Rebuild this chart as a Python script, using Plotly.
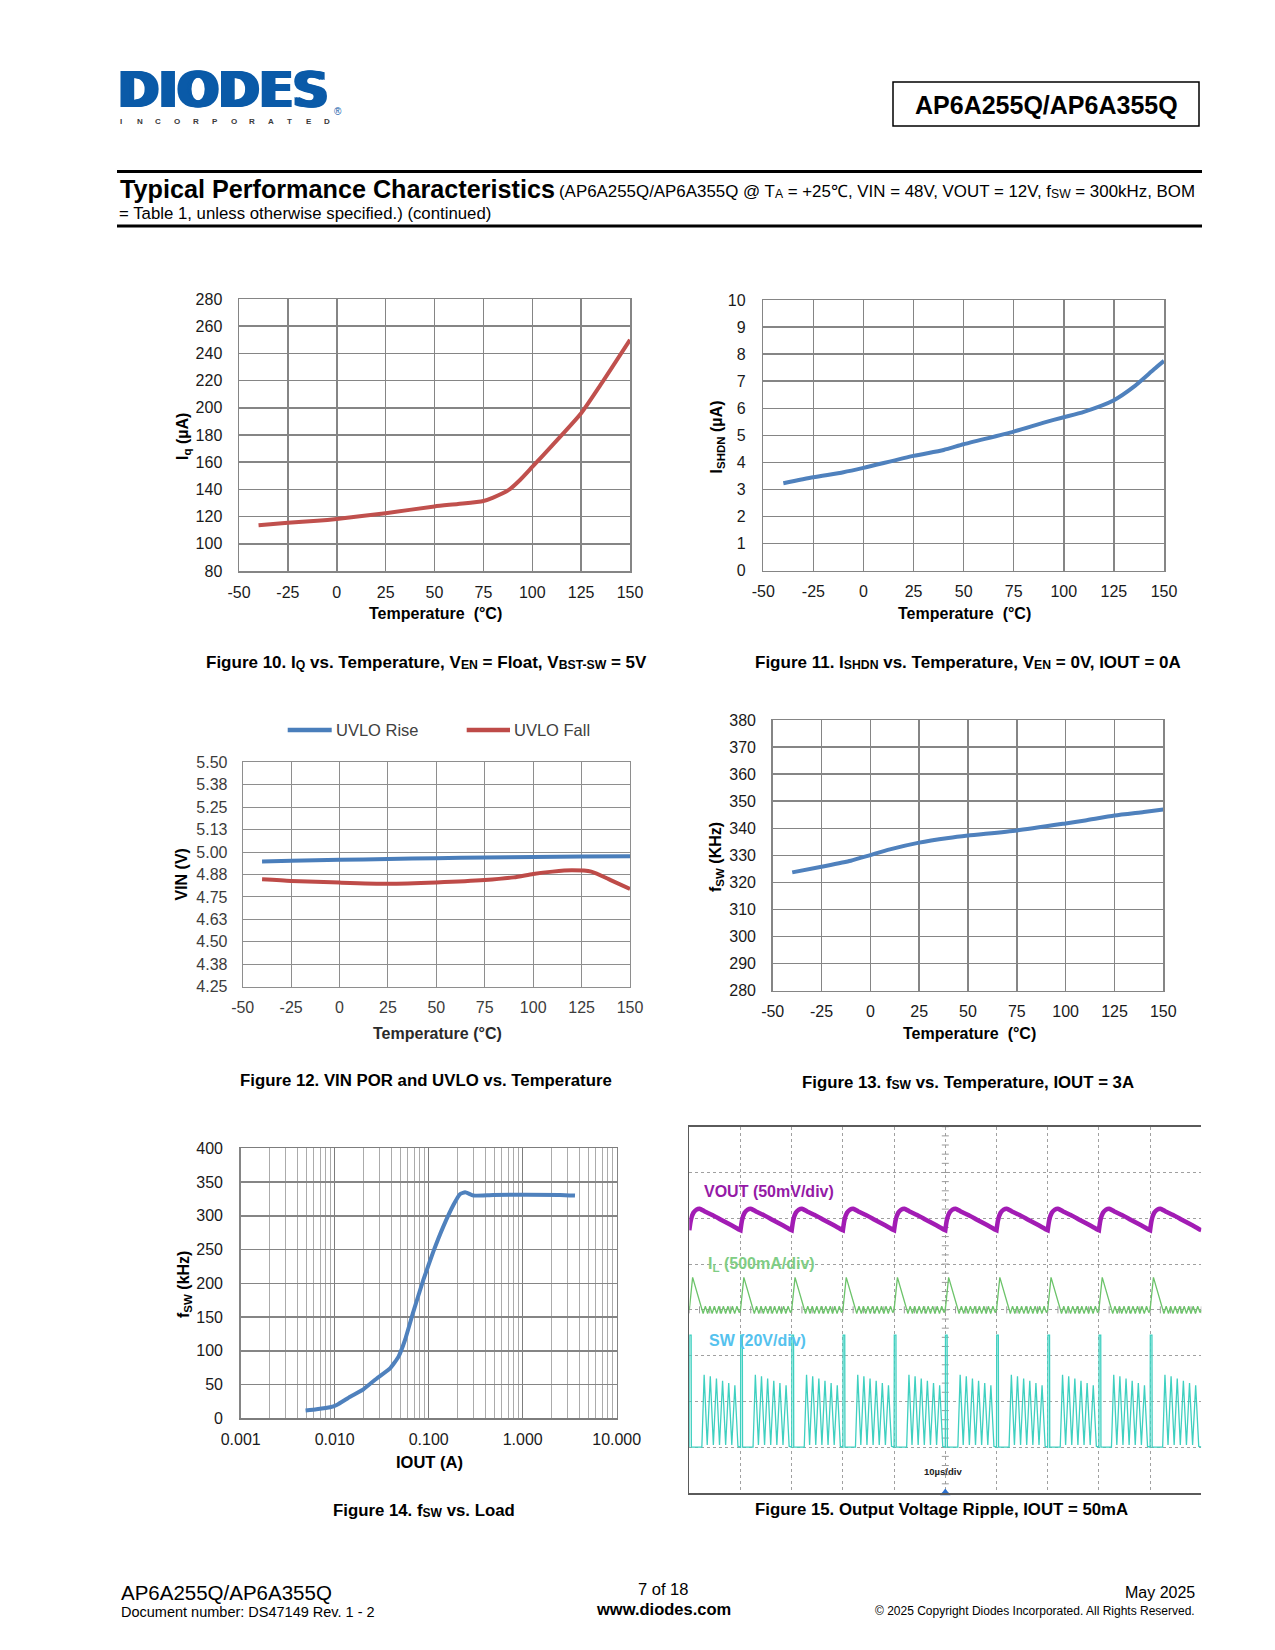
import numpy as np
import plotly.graph_objects as go

W, H = 1275, 1650
FONT = "Liberation Sans, Arial, Helvetica, sans-serif"

# ---------------- data ----------------
temp_ticks = [-50, -25, 0, 25, 50, 75, 100, 125, 150]

# Figure 10 : IQ vs temperature
fig10_temp = [-40, -25, -10, 0, 25, 50, 62, 75, 80, 88, 94, 100, 110, 125, 135, 150]
fig10_iq = [113.6, 115.5, 117.0, 118.3, 122.5, 127.5, 129.3, 131.5, 134.0, 139.6,
            147.3, 156.5, 172.0, 196.0, 217.0, 250.0]
fig10_yticks = [80, 100, 120, 140, 160, 180, 200, 220, 240, 260, 280]

# Figure 11 : ISHDN vs temperature
fig11_temp = [-40, -25, -10, 0, 25, 40, 50, 75, 90, 100, 110, 125, 135, 145, 150]
fig11_ishdn = [3.23, 3.45, 3.64, 3.80, 4.24, 4.46, 4.67, 5.14, 5.47, 5.67, 5.87,
               6.30, 6.80, 7.44, 7.75]
fig11_yticks = [0, 1, 2, 3, 4, 5, 6, 7, 8, 9, 10]

# Figure 12 : UVLO vs temperature
fig12_temp_rise = [-40, -25, 0, 25, 50, 75, 100, 125, 150]
fig12_uvlo_rise = [4.948, 4.951, 4.957, 4.961, 4.966, 4.970, 4.973, 4.975, 4.976]
fig12_temp_fall = [-40, -25, 0, 25, 50, 75, 90, 100, 110, 120, 130, 140, 150]
fig12_uvlo_fall = [4.848, 4.839, 4.830, 4.824, 4.831, 4.844, 4.859, 4.878, 4.891,
                   4.898, 4.891, 4.844, 4.794]
fig12_yticks = [4.25, 4.375, 4.5, 4.625, 4.75, 4.875, 5.0, 5.125, 5.25, 5.375, 5.5]
fig12_yticktext = ["4.25", "4.38", "4.50", "4.63", "4.75", "4.88", "5.00", "5.13",
                   "5.25", "5.38", "5.50"]
fig12_series = ["UVLO Rise", "UVLO Fall"]

# Figure 13 : fSW vs temperature
fig13_temp = [-40, -25, -10, 0, 10, 25, 40, 50, 75, 100, 110, 125, 140, 150]
fig13_fsw = [323.7, 325.8, 328.0, 330.1, 332.2, 334.7, 336.4, 337.3, 339.2, 341.8,
             342.9, 344.7, 346.0, 346.9]
fig13_yticks = [280, 290, 300, 310, 320, 330, 340, 350, 360, 370, 380]

# Figure 14 : fSW vs load
fig14_iout = [0.0049, 0.0064, 0.0089, 0.0105, 0.0146, 0.0202, 0.028, 0.0388, 0.0476,
              0.056, 0.0687, 0.0877, 0.112, 0.143, 0.183, 0.215, 0.244, 0.299, 0.487,
              2.49, 3.6]
fig14_fsw = [11.4, 13.3, 16.3, 19.8, 32, 43, 59, 74, 91, 116, 158, 205, 247, 284, 316,
             332, 335, 330, 331, 331, 330]
fig14_xticks = [0.001, 0.01, 0.1, 1, 10]
fig14_xticktext = ["0.001", "0.010", "0.100", "1.000", "10.000"]
fig14_yticks = [0, 50, 100, 150, 200, 250, 300, 350, 400]

# Figure 15 : scope capture (x in divisions of 10 us, y in divisions)
scope_period_starts = [0, 1, 2, 3, 4, 5, 6, 7, 8, 9]
vout_t = [0.00, 0.03, 0.08, 0.14, 0.20, 0.30, 0.45, 0.60, 0.75, 0.90, 0.98, 1.00]
vout_div = [5.74, 5.96, 6.12, 6.19, 6.21, 6.15, 6.07, 5.98, 5.89, 5.80, 5.75, 5.74]
il_t = [0.00, 0.065, 0.27, 0.314, 0.358, 0.402, 0.446, 0.490, 0.534, 0.578, 0.622,
        0.666, 0.710, 0.754, 0.798, 0.842, 0.886, 0.930, 0.974, 1.00]
il_div = [4.00, 4.71, 3.92, 4.08, 3.92, 4.08, 3.92, 4.08, 3.92, 4.08, 3.92, 4.08,
          3.92, 4.08, 3.92, 4.08, 3.92, 4.08, 3.94, 4.00]
sw_t = [0.00, 0.004, 0.036, 0.040, 0.245, 0.29, 0.35, 0.41, 0.47, 0.53, 0.59, 0.65,
        0.71, 0.77, 0.83, 0.89, 0.95, 1.00]
sw_div = [1.00, 3.45, 3.45, 1.00, 1.00, 2.58, 1.05, 2.55, 1.05, 2.50, 1.05, 2.45,
          1.05, 2.40, 1.05, 2.35, 1.02, 1.00]
scope_marker_levels = [5.90, 4.08, 3.00, 0.98]
scope_marker_colors = ["#a21cb4", "#6cc36a", "#3fd0c0", "#3fd0c0"]

# ---------------- helpers ----------------
def dom_x(a, b):
    return [a / W, b / W]


def dom_y(top, bottom):
    return [1 - bottom / H, 1 - top / H]


def sub(s, shift="-22%"):
    """Subscript as a small, shifted span (avoids zero-width spacer tspans)."""
    return '<span style="font-size:72%%;baseline-shift:%s">%s</span>' % (shift, s)


fig = go.Figure()


def add_line(x, y, color, xa, ya, width=4, name=None, shape="spline", smoothing=0.6):
    fig.add_trace(go.Scatter(
        x=x, y=y, mode="lines", name=name, showlegend=False,
        line=dict(color=color, width=width, shape=shape, smoothing=smoothing),
        xaxis=xa, yaxis=ya, hoverinfo="skip"))


GRID = "#858585"
TICKFONT = dict(family=FONT, size=16, color="#1a1a1a")


def lin_axis(domain, anchor, rng, tickvals, ticktext=None, gridcolor=GRID, gw=1.5,
             tf=TICKFONT, standoff=6, atype="linear"):
    return dict(domain=domain, anchor=anchor, range=rng, type=atype,
                tickmode="array", tickvals=tickvals,
                ticktext=ticktext if ticktext else [str(v) for v in tickvals],
                showgrid=True, gridcolor=gridcolor, gridwidth=gw,
                showline=True, linecolor=gridcolor, linewidth=gw, mirror=True,
                zeroline=False, ticks="", tickfont=tf, automargin=False,
                ticklabelstandoff=standoff, fixedrange=True)


# ---------------- traces ----------------
RED = "#c0504d"
BLUE = "#4f81bd"
F12_COLORS = ["#4a7ebb", "#be4b48"]
add_line(fig10_temp, fig10_iq, RED, "x", "y")
add_line(fig11_temp, fig11_ishdn, BLUE, "x2", "y2")
add_line(fig12_temp_rise, fig12_uvlo_rise, F12_COLORS[0], "x3", "y3",
         name=fig12_series[0])
add_line(fig12_temp_fall, fig12_uvlo_fall, F12_COLORS[1], "x3", "y3",
         name=fig12_series[1])
add_line(fig13_temp, fig13_fsw, BLUE, "x4", "y4")
add_line(fig14_iout, fig14_fsw, BLUE, "x5", "y5", smoothing=0.4)


def tile(t, v):
    xs = np.concatenate([np.asarray(t) + k for k in scope_period_starts])
    ys = np.concatenate([np.asarray(v) for _ in scope_period_starts])
    return xs, ys


# graticule centre ticks
cent = [i * 0.2 for i in range(41)]
fig.add_trace(go.Scatter(x=[5] * len(cent), y=cent, mode="markers",
                         marker=dict(symbol="line-ew", size=5,
                                     line=dict(color="#9a9a9a", width=1)),
                         xaxis="x6", yaxis="y6", showlegend=False, hoverinfo="skip"))
centx = [i * 0.2 for i in range(51)]
fig.add_trace(go.Scatter(x=centx, y=[4] * len(centx), mode="markers",
                         marker=dict(symbol="line-ns", size=5,
                                     line=dict(color="#9a9a9a", width=1)),
                         xaxis="x6", yaxis="y6", showlegend=False, hoverinfo="skip"))

sx, sy = tile(sw_t, sw_div)
add_line(sx, sy, "#3fd0c0", "x6", "y6", width=1.3, shape="linear")
ix, iy = tile(il_t, il_div)
add_line(ix, iy, "#6cc36a", "x6", "y6", width=1.3, shape="linear")
vx, vy = tile(vout_t, vout_div)
add_line(vx, vy, "#a21cb4", "x6", "y6", width=4.5, shape="spline", smoothing=0.5)

fig.add_trace(go.Scatter(x=[-0.12] * len(scope_marker_levels), y=scope_marker_levels,
                         mode="markers", cliponaxis=False,
                         marker=dict(symbol="triangle-right", size=7,
                                     color=scope_marker_colors),
                         xaxis="x6", yaxis="y6", showlegend=False, hoverinfo="skip"))
fig.add_trace(go.Scatter(x=[5], y=[0.0], mode="markers", cliponaxis=False,
                         marker=dict(symbol="triangle-up", size=9, color="#2a6fd0"),
                         xaxis="x6", yaxis="y6", showlegend=False, hoverinfo="skip"))

# ---------------- axes ----------------
TICKFONT12 = dict(family=FONT, size=16, color="#3c3c3c")
layout_axes = dict(
    xaxis=lin_axis(dom_x(239, 630), "y", [-50, 150], temp_ticks),
    yaxis=lin_axis(dom_y(299, 571), "x", [80, 280], fig10_yticks, standoff=12),
    xaxis2=lin_axis(dom_x(763.3, 1164), "y2", [-50, 150], temp_ticks),
    yaxis2=lin_axis(dom_y(300, 570.7), "x2", [0, 10], fig11_yticks, standoff=13),
    xaxis3=lin_axis(dom_x(242.7, 630), "y3", [-50, 150], temp_ticks, gridcolor="#8e8e8e",
                    gw=1, tf=TICKFONT12),
    yaxis3=lin_axis(dom_y(762.3, 986.7), "x3", [4.25, 5.5], fig12_yticks,
                    fig12_yticktext, gridcolor="#8e8e8e", gw=1, tf=TICKFONT12,
                    standoff=11),
    xaxis4=lin_axis(dom_x(772.7, 1163.3), "y4", [-50, 150], temp_ticks),
    yaxis4=lin_axis(dom_y(720, 990.7), "x4", [280, 380], fig13_yticks, standoff=12),
    xaxis5=lin_axis(dom_x(240.7, 616.7), "y5", [-3, 1], fig14_xticks, fig14_xticktext,
                    gridcolor="#7d7d7d", atype="log"),
    yaxis5=lin_axis(dom_y(1148.3, 1418.3), "x5", [0, 400], fig14_yticks, standoff=13),
    xaxis6=dict(domain=dom_x(689.3, 1201.3), anchor="y6", range=[0, 10], dtick=1,
                tick0=0, showgrid=True, gridcolor="#a0a0a0", griddash="dot",
                gridwidth=1, showticklabels=False, ticks="", showline=True,
                linecolor="#5a5a5a", linewidth=1.5, mirror=True, zeroline=False,
                automargin=False, fixedrange=True),
    yaxis6=dict(domain=dom_y(1126.7, 1493), anchor="x6", range=[0, 8], dtick=1,
                tick0=0, showgrid=True, gridcolor="#a0a0a0", griddash="dot",
                gridwidth=1, showticklabels=False, ticks="", showline=True,
                linecolor="#5a5a5a", linewidth=1.5, mirror=False, zeroline=False,
                automargin=False, fixedrange=True),
)
layout_axes["xaxis5"]["minor"] = dict(
    tickmode="array",
    tickvals=[m * 10.0 ** e for e in range(-3, 1) for m in range(2, 10)],
    showgrid=True, gridcolor="#ababab", gridwidth=1, ticks="")

# ---------------- annotations ----------------
ann = []


def text(t, x, y, size, color="#000000", xanchor="center", yanchor="middle",
         angle=0, family=FONT, xref="paper", yref="paper", shadow=None, **kw):
    font = dict(family=family, size=size, color=color)
    if shadow:
        font["shadow"] = shadow
    d = dict(text=t, x=x / W if xref == "paper" else x,
             y=1 - y / H if yref == "paper" else y,
             xref=xref, yref=yref, xanchor=xanchor, yanchor=yanchor,
             textangle=angle, showarrow=False, font=font)
    d.update(kw)
    ann.append(d)


LOGO = "#0a5aa8"
# logo: one heavy text, widened with a horizontal text-shadow
text("<b>DIODES</b>", 114, 90, 49, color=LOGO, xanchor="left",
     family="DejaVu Sans, Liberation Sans, sans-serif",
     shadow="1.5px 0 0 %s, 3px 0 0 %s, 4.5px 0 0 %s" % (LOGO, LOGO, LOGO))
for i, ch in enumerate("INCORPORATED"):
    text("<b>%s</b>" % ch, 120.7 + i * 18.8, 121.5, 8, color="#3a3a3a")
text("®", 338, 112, 10, color=LOGO)

# header
text("<b>AP6A255Q/AP6A355Q</b>", 1046, 104.5, 25)
text("<b>Typical Performance Characteristics</b>", 118, 189, 25.2, xanchor="left")
text("(AP6A255Q/AP6A355Q @ T" + sub("A", "-8%") + " = +25\u2103, VIN = 48V, "
     "VOUT = 12V, f" + sub("SW", "-8%") + " = 300kHz, BOM", 557, 192, 16.9,
     xanchor="left")
text("= Table 1, unless otherwise specified.) (continued)", 117, 213.5, 16.8,
     xanchor="left")

# axis titles
AX = 16
text("<b>Temperature  (°C)</b>", 435, 613.5, AX)
text("<b>I" + sub("q") + " (µA)</b>", 183, 437, AX, angle=-90)
text("<b>Temperature  (°C)</b>", 964, 613.5, AX)
text("<b>I" + sub("SHDN") + " (µA)</b>", 716.5, 437, AX, angle=-90)
text("<b>Temperature (°C)</b>", 437, 1033, AX, color="#2a2a2a")
text("<b>VIN (V)</b>", 180.5, 875, AX, angle=-90)
text("<b>Temperature  (°C)</b>", 969, 1033.5, AX)
text("<b>f" + sub("SW") + " (KHz)</b>", 716, 857, AX, angle=-90)
text("<b>IOUT (A)</b>", 429, 1462, 16.5)
text("<b>f" + sub("SW") + " (kHz)</b>", 184, 1285, AX, angle=-90)

# Figure 12 legend
text(fig12_series[0], 334, 730, 16.5, color="#404040", xanchor="left")
text(fig12_series[1], 512, 730, 16.5, color="#404040", xanchor="left")

# captions
CAP = 16.8
cs = "-10%"
text("<b>Figure 10. I" + sub("Q", cs) + " vs. Temperature, V" + sub("EN", cs) +
     " = Float, V" + sub("BST-SW", cs) + " = 5V</b>", 426, 662.5, 17)
text("<b>Figure 11. I" + sub("SHDN", cs) + " vs. Temperature, V" + sub("EN", cs) +
     " = 0V, IOUT = 0A</b>", 968, 662.5, 17)
text("<b>Figure 12. VIN POR and UVLO vs. Temperature</b>", 426, 1080.5, CAP)
text("<b>Figure 13. f" + sub("SW", cs) + " vs. Temperature, IOUT = 3A</b>", 968, 1082,
     CAP)
text("<b>Figure 14. f" + sub("SW", cs) + " vs. Load</b>", 424, 1510, CAP)
text("<b>Figure 15. Output Voltage Ripple, IOUT = 50mA</b>", 942, 1509, CAP)

# scope labels (data coordinates of the scope)
text("<b>VOUT (50mV/div)</b>", 0.24, 6.58, 16, color="#951aa6", xanchor="left",
     xref="x6", yref="y6")
text("<b>I" + sub("L") + " (500mA/div)</b>", 0.33, 5.0, 16, color="#7fcd84",
     xanchor="left", xref="x6", yref="y6")
text("<b>SW (20V/div)</b>", 0.34, 3.32, 16, color="#55c2ee", xanchor="left",
     xref="x6", yref="y6")
text("<b>10µs/div</b>", 4.95, 0.47, 9.5, color="#222222", xref="x6", yref="y6")

# footer
text("AP6A255Q/AP6A355Q", 119, 1592, 20.5, xanchor="left")
text("Document number: DS47149 Rev. 1 - 2", 119, 1612, 14.5, xanchor="left")
text("7 of 18", 663, 1589, 16.5)
text("<b>www.diodes.com</b>", 663, 1609, 16.5)
text("May 2025", 1197, 1592, 16, xanchor="right")
text("© 2025 Copyright Diodes Incorporated. All Rights Reserved.", 1197, 1611, 12,
     xanchor="right")

# ---------------- shapes ----------------
def hline(x0, x1, y, color, width):
    return dict(type="line", xref="paper", yref="paper", x0=x0 / W, x1=x1 / W,
                y0=1 - y / H, y1=1 - y / H, line=dict(color=color, width=width))


shapes = [
    hline(117, 1202, 171.5, "black", 3),
    hline(117, 1202, 226, "black", 3),
    dict(type="rect", xref="paper", yref="paper", x0=893 / W, x1=1199 / W,
         y0=1 - 126 / H, y1=1 - 82 / H, line=dict(color="black", width=1.5)),
    hline(287.7, 331.7, 730, F12_COLORS[0], 4.5),
    hline(466.7, 510, 730, F12_COLORS[1], 4.5),
]

fig.update_layout(
    width=W, height=H, autosize=False,
    margin=dict(l=0, r=0, t=0, b=0, pad=0, autoexpand=False),
    paper_bgcolor="white", plot_bgcolor="white",
    font=dict(family=FONT, color="#000000"),
    annotations=ann, shapes=shapes, showlegend=False,
    **layout_axes,
)

fig.write_html(
    "out.html",
    config={"responsive": False, "displayModeBar": False, "staticPlot": True},
    post_script=("document.documentElement.style.margin='0';"
                 "document.body.style.margin='0';document.body.style.padding='0';"
                 "document.documentElement.style.overflow='hidden';"),
)
